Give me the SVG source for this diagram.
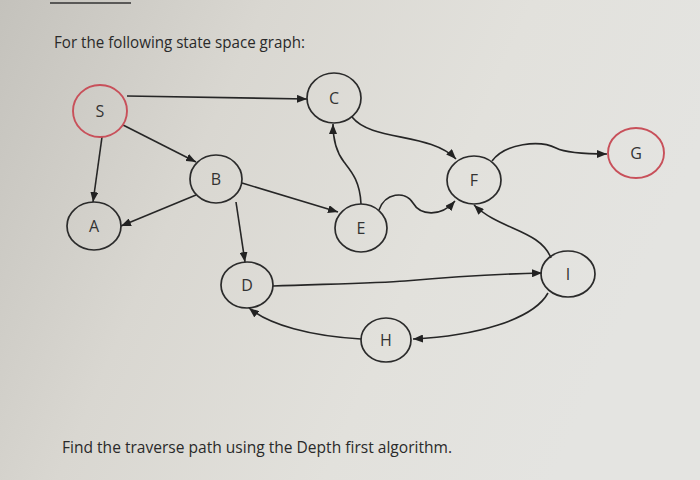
<svg xmlns="http://www.w3.org/2000/svg" width="700" height="480" viewBox="0 0 700 480">
<defs>
<linearGradient id="bg" x1="0" y1="0" x2="1" y2="0.3">
<stop offset="0" stop-color="#c4c2bc"/>
<stop offset="0.35" stop-color="#d9d7d1"/>
<stop offset="0.7" stop-color="#e2e1dc"/>
<stop offset="1" stop-color="#e4e4e1"/>
</linearGradient>
<marker id="arr" markerUnits="userSpaceOnUse" markerWidth="10" markerHeight="8" refX="10" refY="4" orient="auto">
<path d="M0,0 L10,4 L0,8 z" fill="#222"/>
</marker>
<style>
.n{fill:none;stroke:#2b2b2b;stroke-width:1.7}
.r{fill:none;stroke:#c8505a;stroke-width:1.9}
.t{font-family:"Open Sans","Liberation Sans",sans-serif;font-size:16px;fill:#333;text-anchor:middle}
.e{fill:none;stroke:#262626;stroke-width:1.6;marker-end:url(#arr)}
.h{font-family:"Open Sans","Liberation Sans",sans-serif;font-size:17px;fill:#2a2a2a}
</style>
</defs>
<rect width="700" height="480" fill="url(#bg)"/>
<line x1="50" y1="3" x2="131" y2="3" stroke="#333" stroke-width="1.5"/>
<text class="h" x="54" y="48" textLength="251" lengthAdjust="spacingAndGlyphs">For the following state space graph:</text>
<text class="h" x="62" y="453" textLength="390" lengthAdjust="spacingAndGlyphs">Find the traverse path using the Depth first algorithm.</text>
<g id="connectors">
<path class="e" d="M127,96 L307,99"/>
<path class="e" d="M102,137 L93,202"/>
<path class="e" d="M123,125 L196,162"/>
<path class="e" d="M196,195 L121,226"/>
<path class="e" d="M242,183 L338,212"/>
<path class="e" d="M236,202 L245,262"/>
<path class="e" d="M361,204 C360,180 350,170 344,162 C337,153 333,140 333,124"/>
<path class="e" d="M352,117 C372,142 430,132 456,159"/>
<path class="e" d="M379,210 C385,193 405,190 413,203 C420,215 440,218 455,201"/>
<path class="e" d="M492,161 C505,143 540,140 556,148 C566,153 590,154 607,154"/>
<path class="e" d="M551,258 C540,230 500,230 474,205"/>
<path class="e" d="M273,286 C330,284 380,283 405,281 C450,277 500,274 542,273"/>
<path class="e" d="M548,293 C533,320 475,336 413,339"/>
<path class="e" d="M361,339 C310,336 270,325 249,308"/>
</g>
<g id="S"><ellipse class="r" cx="100" cy="111" rx="27" ry="26"/><text class="t" x="100" y="117">S</text></g>
<g id="C"><ellipse class="n" cx="334" cy="98" rx="27" ry="25"/><text class="t" x="334" y="104">C</text></g>
<g id="B"><ellipse class="n" cx="216" cy="179" rx="26" ry="24"/><text class="t" x="216" y="185">B</text></g>
<g id="A"><ellipse class="n" cx="94" cy="226" rx="27" ry="24"/><text class="t" x="94" y="232">A</text></g>
<g id="E"><ellipse class="n" cx="361" cy="228" rx="26" ry="24"/><text class="t" x="361" y="234">E</text></g>
<g id="F"><ellipse class="n" cx="474" cy="180" rx="27" ry="24"/><text class="t" x="474" y="186">F</text></g>
<g id="G"><ellipse class="r" cx="636" cy="153" rx="28" ry="25"/><text class="t" x="636" y="159">G</text></g>
<g id="D"><ellipse class="n" cx="247" cy="285" rx="26" ry="23"/><text class="t" x="247" y="291">D</text></g>
<g id="I"><ellipse class="n" cx="568" cy="274" rx="27" ry="23"/><text class="t" x="568" y="280">I</text></g>
<g id="H"><ellipse class="n" cx="386" cy="340" rx="25" ry="22"/><text class="t" x="386" y="346">H</text></g>
</svg>
